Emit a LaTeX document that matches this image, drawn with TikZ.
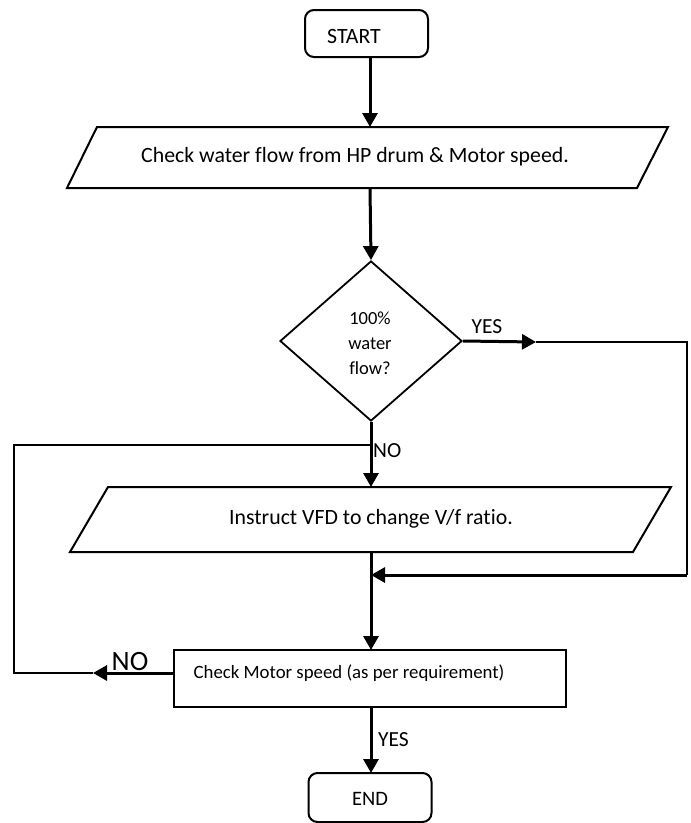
\documentclass[tikz,border=0pt]{standalone}
\usepackage{fontspec}
\setmainfont{Carlito}[Ligatures={NoCommon}]
\usetikzlibrary{shapes.geometric,arrows.meta}
\begin{document}
\begin{tikzpicture}[x=1pt,y=-1pt,
  term/.style={draw, line width=2pt, rounded corners=9pt, minimum width=123pt, minimum height=47pt, inner sep=0pt},
  box/.style={draw, line width=2pt, minimum width=392pt, minimum height=57pt, inner sep=0pt},
  dec/.style={draw, diamond, line width=1.8pt, minimum width=182pt, minimum height=160pt, inner sep=0pt},
  para/.style={draw, line width=2pt, line join=miter},
  txt/.style={inner sep=0pt, font=\fontsize{21.8}{25}\selectfont},
  dtxt/.style={inner sep=0pt, align=center, font=\fontsize{18.5}{25}\selectfont},
  mtxt/.style={inner sep=0pt, font=\fontsize{18.8}{22}\selectfont},
  lbl/.style={inner sep=0pt, font=\fontsize{21.5}{24}\selectfont},
  biglbl/.style={inner sep=0pt, font=\fontsize{28}{30}\selectfont},
  arr/.style={line width=3pt, -{Triangle[length=14pt,width=15pt]}},
  loop/.style={line width=1.6pt}
]
\useasboundingbox (0,0) rectangle (691,823);

% START
\node[term] (start) at (366.5,33.5) {};
\node[txt] (starttxt) at (354,36) {START};

% Parallelogram 1
\coordinate (p1a) at (67,188);
\coordinate (p1b) at (637,188);
\coordinate (p1c) at (668,127);
\coordinate (p1d) at (97,127);
\draw[para] (p1a) -- (p1b) -- (p1c) -- (p1d) -- cycle;
\node[txt] (p1txt) at (355,157) {Check water flow from HP drum \& Motor speed.};
\coordinate (p1top) at (370,127);
\coordinate (p1bot) at (370,188);
\coordinate (startbot) at (370,57);

% Decision
\node[dec] (dec) at (371,341) {};
\node[dtxt] (dectxt) at (370,343) {100\%\\water\\flow?};

% Parallelogram 2
\coordinate (p2a) at (70,552);
\coordinate (p2b) at (633,552);
\coordinate (p2c) at (671,487);
\coordinate (p2d) at (108,487);
\draw[para] (p2a) -- (p2b) -- (p2c) -- (p2d) -- cycle;
\node[txt] (p2txt) at (371,519) {Instruct VFD to change V/f ratio.};
\coordinate (p2top) at (371,487);
\coordinate (p2bot) at (371,552);

% Motor check box
\node[box] (motor) at (370,678.5) {};
\node[mtxt] (motortxt) at (349,673) {Check Motor speed (as per requirement)};
\coordinate (motortop) at (371,650);
\coordinate (motorleft) at (174,673);
\coordinate (motorbot) at (371,707);

% END
\node[term, minimum height=49pt] (end) at (370,797.5) {};
\node[txt, font=\fontsize{20.5}{24}\selectfont] (endtxt) at (370,799) {END};
\coordinate (endtop) at (371,773);

% Connectors
\draw[arr] (startbot) -- (p1top);
\draw[arr] (p1bot) -- (dec.north);

% YES branch
\coordinate (yesarr) at (536,342);
\coordinate (yesr) at (687,342);
\coordinate (yesrb) at (687,575);
\coordinate (join) at (371,575);
\draw[arr] (dec.east) -- (yesarr);
\draw[loop] (yesarr) -- (yesr) -- (yesrb);
\draw[arr] (yesrb) -- (join);
\node[lbl] (yeslbl) at (487,327) {YES};

% NO branch
\draw[arr] (dec.south) -- (p2top);
\node[lbl, anchor=west] (nolbl) at (373,451) {NO};

\draw[arr] (p2bot) -- (motortop);

% NO loop back
\coordinate (noarr) at (93,673);
\coordinate (loopbl) at (14,673);
\coordinate (looptl) at (14,445);
\coordinate (loopjoin) at (371,445);
\draw[arr] (motorleft) -- (noarr);
\draw[loop] (noarr) -- (loopbl) -- (looptl) -- (loopjoin);
\node[biglbl] (nolbl2) at (130,662) {NO};

% YES to END
\draw[arr] (motorbot) -- (endtop);
\node[lbl, anchor=west] (yeslbl2) at (378,740) {YES};
\end{tikzpicture}
\end{document}
